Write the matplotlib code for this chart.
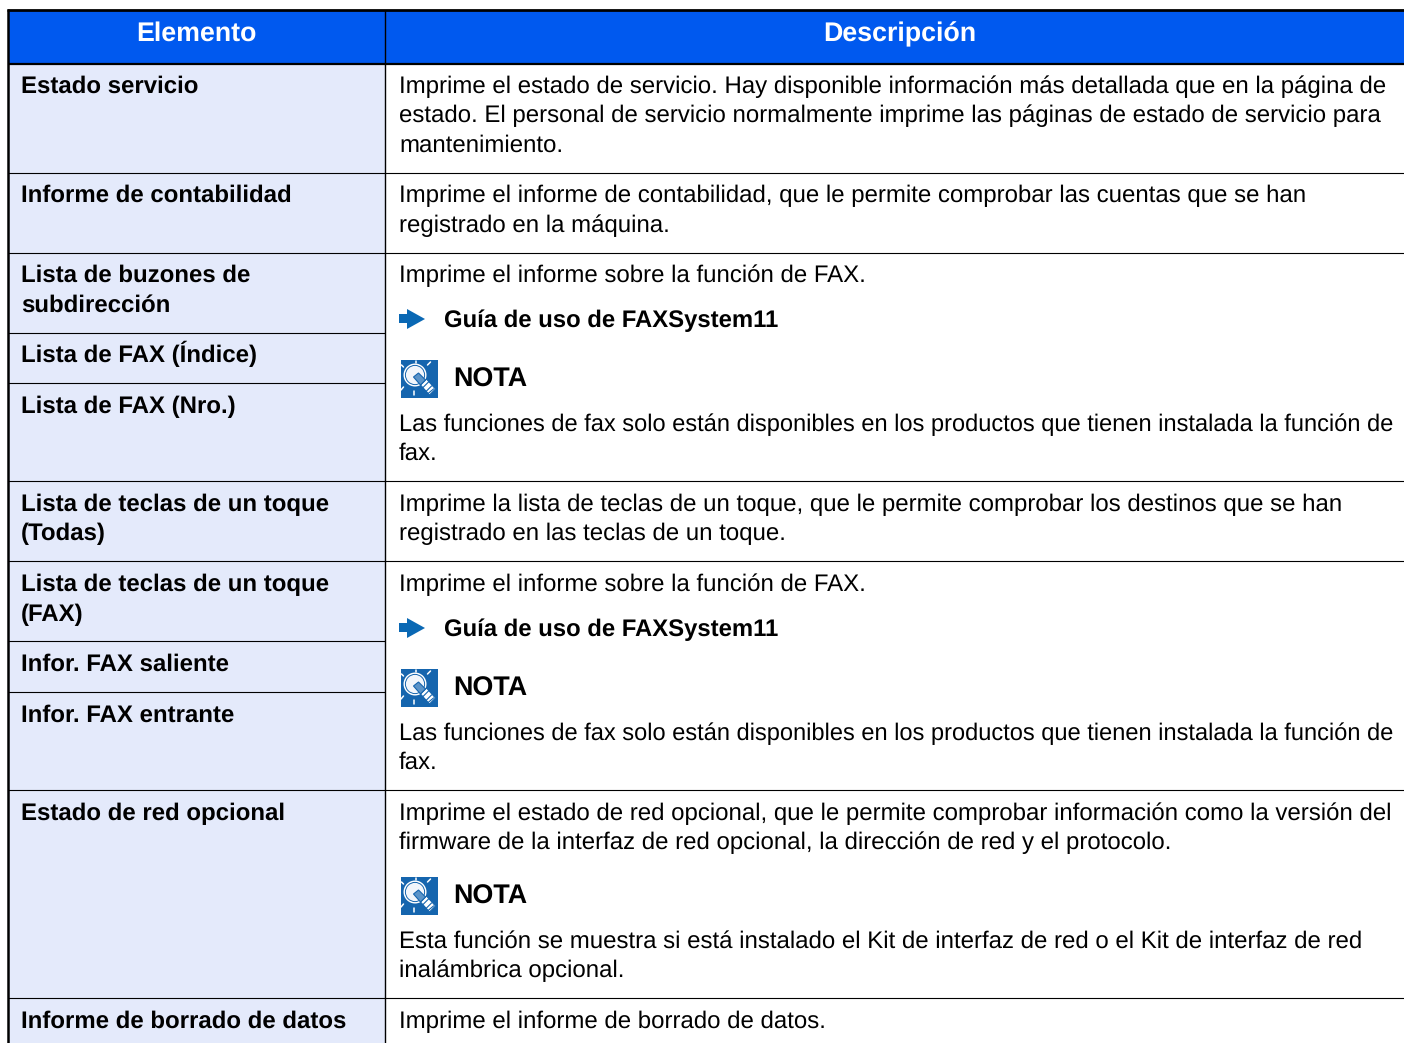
import matplotlib
matplotlib.use('Agg')
import matplotlib.pyplot as plt
from matplotlib.patches import Rectangle, Circle, Polygon

W, H = 1404, 1043
BLUE = '#0059ef'
PALE = '#e4eafb'
ARROW = '#0a68b4'
ICON = '#1565ae'
FS = 17.24
TIGHT_FS = 17.05  # the long fax lines are set a little tighter

headers = ['Elemento', 'Descripción']

left_labels = [
    ('Estado servicio', 93),
    ('Informe de contabilidad', 202),
    ('Lista de buzones de', 282),
    ('subdirección', 312),
    ('Lista de FAX (Índice)', 362),
    ('Lista de FAX (Nro.)', 413),
    ('Lista de teclas de un toque', 511),
    ('(Todas)', 540),
    ('Lista de teclas de un toque', 591),
    ('(FAX)', 621),
    ('Infor. FAX saliente', 671),
    ('Infor. FAX entrante', 722),
    ('Estado de red opcional', 820),
    ('Informe de borrado de datos', 1028),
]

right_lines = [
    ('Imprime el estado de servicio. Hay disponible información más detallada que en la página de', 93),
    ('estado. El personal de servicio normalmente imprime las páginas de estado de servicio para', 122),
    ('mantenimiento.', 152),
    ('Imprime el informe de contabilidad, que le permite comprobar las cuentas que se han', 202),
    ('registrado en la máquina.', 232),
    ('Imprime el informe sobre la función de FAX.', 282),
    ('Las funciones de fax solo están disponibles en los productos que tienen instalada la función de', 431),
    ('fax.', 460),
    ('Imprime la lista de teclas de un toque, que le permite comprobar los destinos que se han', 511),
    ('registrado en las teclas de un toque.', 540),
    ('Imprime el informe sobre la función de FAX.', 591),
    ('Las funciones de fax solo están disponibles en los productos que tienen instalada la función de', 740),
    ('fax.', 769),
    ('Imprime el estado de red opcional, que le permite comprobar información como la versión del', 820),
    ('firmware de la interfaz de red opcional, la dirección de red y el protocolo.', 849),
    ('Esta función se muestra si está instalado el Kit de interfaz de red o el Kit de interfaz de red', 948),
    ('inalámbrica opcional.', 977),
    ('Imprime el informe de borrado de datos.', 1028),
]

guide_label = 'Guía de uso de FAXSystem11'
guide_rows = [327, 636]
note_label = 'NOTA'
note_rows = [386, 695, 903]

full_rules = [173, 253, 481, 561, 790, 998]
left_rules = [333, 383, 641, 692]


def draw_note(ax, base):
    # little lamp icon, blue square with white bulb
    x0, y0 = 400.5, base - 26
    ax.add_patch(Rectangle((x0, y0), 37.5, 38, fc=ICON, ec='none'))
    ax.add_patch(Circle((x0 + 14.5, y0 + 15), 11.5, fc='white', ec='none'))
    ax.add_patch(Circle((x0 + 14.5, y0 + 15), 9.6, fc='#f2f6fb', ec=ICON, lw=0.7))
    # screw base of the bulb, pointing bottom right
    ax.add_patch(Polygon([(x0 + 20, y0 + 25), (x0 + 26, y0 + 19), (x0 + 35, y0 + 29),
                          (x0 + 29, y0 + 35)], closed=True, fc='white', ec=ICON, lw=0.8))
    ax.add_patch(Polygon([(x0 + 13, y0 + 17), (x0 + 18, y0 + 13), (x0 + 25, y0 + 20),
                          (x0 + 20, y0 + 25)], closed=True, fc='#5a93c8', ec=ICON, lw=0.8))
    for a, b, c, d in [(28, 22, 22, 28), (31, 26, 25, 32), (33, 29, 27, 34)]:
        ax.plot([x0 + a, x0 + c], [y0 + b, y0 + d], color=ICON, lw=0.8)
    for dx, dy, ex, ey in [(3, 7, 1, 5), (15, 3, 15, 1), (27, 5, 30, 2), (3, 27, 0.5, 30), (13, 31, 13, 35)]:
        ax.plot([x0 + dx, x0 + ex], [y0 + dy, y0 + ey], color='white', lw=1.1, solid_capstyle='round')
    ax.text(453.4, base + 0.6, note_label, fontsize=19.4, fontweight='bold', va='baseline', color='black')


plt.rcParams['font.family'] = ['Liberation Sans', 'DejaVu Sans']
plt.rcParams['text.hinting'] = 'no_hinting'
plt.rcParams['text.hinting_factor'] = 8
fig = plt.figure(figsize=(W / 100, H / 100), dpi=100)
ax = fig.add_axes([0, 0, 1, 1])
ax.set_xlim(0, W)
ax.set_ylim(H, 0)
ax.axis('off')

# fills
ax.add_patch(Rectangle((8, 10), W - 8, 53, fc=BLUE, ec='none'))
ax.add_patch(Rectangle((8, 63), 377, H - 63, fc=PALE, ec='none'))

# rules
ax.plot([7, W], [10, 10], color='black', lw=2.0, solid_capstyle='butt')
ax.plot([8, W], [63.5, 63.5], color='black', lw=1.6, solid_capstyle='butt')
ax.plot([8, 8], [9, H], color='black', lw=1.8, solid_capstyle='butt')
ax.plot([385.2, 385.2], [10, H], color='black', lw=1.0, solid_capstyle='butt')
for y in full_rules:
    ax.plot([8, W], [y, y], color='black', lw=0.8, solid_capstyle='butt')
for y in left_rules:
    ax.plot([8, 385], [y, y], color='black', lw=0.8, solid_capstyle='butt')

# header, the two baselines snap to different pixels
ax.text(196.5, 40.8, headers[0], color='white', fontsize=19.25, fontweight='bold', ha='center', va='baseline')
ax.text(899.5, 41.3, headers[1], color='white', fontsize=19.25, fontweight='bold', ha='center', va='baseline')

for label, y in left_labels:
    ax.text(21, y, label, fontsize=FS, fontweight='bold', va='baseline', color='black')
for line, y in right_lines:
    fs = TIGHT_FS if line.startswith('Las funciones') else FS
    ax.text(399, y, line, fontsize=fs, va='baseline', color='black')

for y in guide_rows:
    ax.add_patch(Polygon([(399, y - 13), (407, y - 13), (407, y - 18), (425, y - 8),
                          (407, y + 2), (407, y - 4), (399, y - 4)], closed=True, fc=ARROW, ec='none'))
    ax.text(444, y, guide_label, fontsize=17.2, fontweight='bold', va='baseline', color='black')

for y in note_rows:
    draw_note(ax, y)

fig.savefig('out.png', dpi=100)
